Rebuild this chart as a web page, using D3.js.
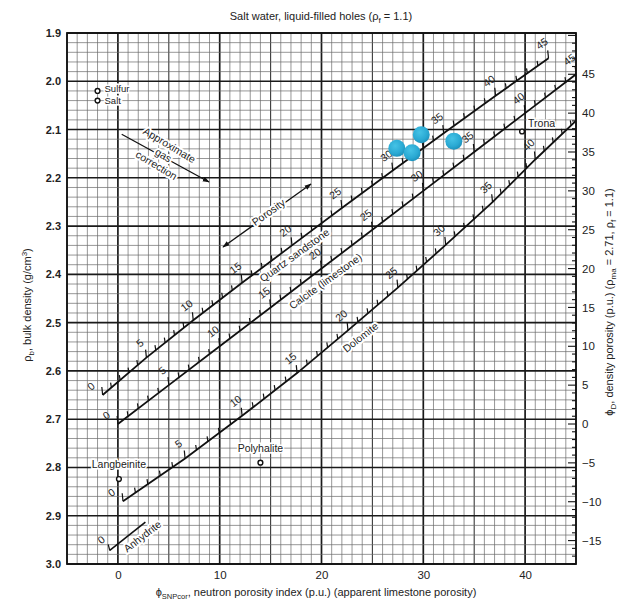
<!DOCTYPE html>
<html>
<head>
<meta charset="utf-8">
<script src="https://cdn.jsdelivr.net/npm/d3@7"></script>
<style>
  html, body { margin: 0; padding: 0; background: #fff; }
  svg { display: block; font-family: "Liberation Sans", Arial, Helvetica, sans-serif; }
</style>
</head>
<body>
<svg id="chart" width="635" height="602"></svg>
<script>
// ---------------- data ----------------
const neutronTicks = [0, 10, 20, 30, 40];
const densityTicks = [1.9, 2.0, 2.1, 2.2, 2.3, 2.4, 2.5, 2.6, 2.7, 2.8, 2.9, 3.0];
const porosityTicks = [45, 40, 35, 30, 25, 20, 15, 10, 5, 0, -5, -10, -15];

const porositySteps = [0, 5, 10, 15, 20, 25, 30, 35, 40, 45];
const sandNeutron = [-1.5, 2.8, 7.4, 12.2, 17.1, 22.0, 27.0, 32.0, 37.1, 42.3];
const sandDensity = [2.65, 2.5725, 2.495, 2.4175, 2.34, 2.2625, 2.185, 2.1075, 2.03, 1.9525];
const limeNeutron = [0, 5, 10, 15, 20, 25, 30, 35, 40, 45];
const limeDensity = [2.71, 2.6295, 2.549, 2.4685, 2.388, 2.3075, 2.227, 2.1465, 2.066, 1.9855];
const dolNeutron = [0.5, 6.6, 12.2, 17.6, 22.6, 27.5, 32.2, 36.8, 41.0, 45.4];
const dolDensity = [2.87, 2.7815, 2.693, 2.6045, 2.516, 2.4275, 2.339, 2.2505, 2.162, 2.0735];
const anhNeutron = [-0.8, 2.7];
const anhDensity = [2.972, 2.913];

const mineralNames = ["Sulfur", "Salt", "Trona", "Langbeinite", "Polyhalite"];
const mineralNeutron = [-2.0, -2.0, 39.7, 0.1, 14.0];
const mineralDensity = [2.02, 2.04, 2.104, 2.824, 2.79];

const sampleNeutron = [27.4, 28.9, 29.8, 33.0];
const sampleDensity = [2.139, 2.148, 2.111, 2.124];

// ---------------- layout ----------------
const svg = d3.select("#chart");
const L = 67, R = 576, T = 33, B = 564;
const x = d3.scaleLinear().domain([-5, 45]).range([L, R]);
const y = d3.scaleLinear().domain([1.9, 3.0]).range([T, B]);
const rhoMa = 2.71, rhoF = 1.1;
const yPhi = d3.scaleLinear().domain([0, 100]).range([y(rhoMa), y(rhoMa - (rhoMa - rhoF))]);

const defs = svg.append("defs");
defs.append("clipPath").attr("id", "plotclip")
  .append("rect").attr("x", L).attr("y", T).attr("width", R - L).attr("height", B - T);
const grad = defs.append("radialGradient").attr("id", "dotgrad")
  .attr("cx", "40%").attr("cy", "35%").attr("r", "65%");
grad.append("stop").attr("offset", "0%").attr("stop-color", "#45c3e6");
grad.append("stop").attr("offset", "70%").attr("stop-color", "#2aa9d3");
grad.append("stop").attr("offset", "100%").attr("stop-color", "#1e93bd");

// ---------------- grid ----------------
const grid = svg.append("g");
d3.range(-5, 45.001, 1).forEach(n => {
  const r = Math.round(n);
  let w = 0.7, c = "#6a6a6a";
  if (r % 5 === 0) { w = 1.1; c = "#3a3a3a"; }
  if (r % 10 === 0) { w = 1.7; c = "#1a1a1a"; }
  grid.append("line").attr("x1", x(r)).attr("x2", x(r)).attr("y1", T).attr("y2", B)
    .attr("stroke", c).attr("stroke-width", w);
});
d3.range(0, 56, 1).forEach(i => {
  const rho = 1.9 + i * 0.02;
  let w = 0.7, c = "#6a6a6a";
  if (i % 5 === 0) { w = 1.6; c = "#1a1a1a"; }
  grid.append("line").attr("x1", L).attr("x2", R).attr("y1", y(rho)).attr("y2", y(rho))
    .attr("stroke", c).attr("stroke-width", w);
});

// ---------------- frame & axes ----------------
svg.append("rect").attr("x", L).attr("y", T).attr("width", R - L).attr("height", B - T)
  .attr("fill", "none").attr("stroke", "#111").attr("stroke-width", 1.8);

// left axis labels
const leftAxis = d3.axisLeft(y).tickValues(densityTicks).tickFormat(d3.format(".1f")).tickSize(0).tickPadding(6);
svg.append("g").attr("transform", `translate(${L},0)`).call(leftAxis)
  .call(g => g.select(".domain").remove())
  .selectAll("text").attr("font-size", 11).attr("font-weight", "bold").attr("fill", "#222")
  .attr("font-family", "Liberation Sans, Arial, sans-serif");

// bottom axis labels
const bottomAxis = d3.axisBottom(x).tickValues(neutronTicks).tickFormat(d3.format("d")).tickSize(0).tickPadding(7);
svg.append("g").attr("transform", `translate(0,${B})`).call(bottomAxis)
  .call(g => g.select(".domain").remove())
  .selectAll("text").attr("font-size", 11.5).attr("fill", "#222")
  .attr("font-family", "Liberation Sans, Arial, sans-serif");

// right porosity axis: inward ticks every 1 p.u.
const phiMin = Math.ceil(yPhi.invert(B)), phiMax = Math.floor(yPhi.invert(T));
const rTicks = svg.append("g");
d3.range(phiMin, phiMax + 1).forEach(p => {
  const len = (p % 5 === 0) ? 8 : 4;
  rTicks.append("line").attr("x1", R - len).attr("x2", R).attr("y1", yPhi(p)).attr("y2", yPhi(p))
    .attr("stroke", "#111").attr("stroke-width", 1.1);
});
const rightAxis = d3.axisRight(yPhi).tickValues(porosityTicks)
  .tickFormat(d => d < 0 ? "\u2212" + Math.abs(d) : d).tickSize(0).tickPadding(6);
svg.append("g").attr("transform", `translate(${R},0)`).call(rightAxis)
  .call(g => g.select(".domain").remove())
  .selectAll("text").attr("font-size", 11.5).attr("fill", "#222")
  .attr("font-family", "Liberation Sans, Arial, sans-serif");

// ---------------- lithology lines ----------------
const plot = svg.append("g").attr("clip-path", "url(#plotclip)");
const lineGen = d3.line().x(d => x(d[0])).y(d => y(d[1]));

function drawLith(neut, dens, maxLabel) {
  const pts = neut.map((n, i) => [n, dens[i]]);
  plot.append("path").attr("d", lineGen(pts)).attr("fill", "none")
    .attr("stroke", "#111").attr("stroke-width", 1.8);
  // ticks at each porosity unit
  for (let i = 0; i < pts.length; i++) {
    const kmax = (i < pts.length - 1) ? 5 : 1;
    for (let k = 0; k < kmax; k++) {
      const f = k / 5;
      const a = pts[i], b = pts[Math.min(i + 1, pts.length - 1)];
      const n = a[0] + (b[0] - a[0]) * f, r = a[1] + (b[1] - a[1]) * f;
      const px = x(n), py = y(r);
      const len = k === 0 ? 8 : 5;
      plot.append("line").attr("x1", px).attr("x2", px - 0.8).attr("y1", py).attr("y2", py - len)
        .attr("stroke", "#111").attr("stroke-width", 1.2);
    }
  }
  // labels every 5 p.u.
  porositySteps.forEach((p, i) => {
    if (p > maxLabel) return;
    const a = pts[Math.max(0, i - 1)], b = pts[Math.min(pts.length - 1, i + 1)];
    const ang = Math.atan2(y(b[1]) - y(a[1]), x(b[0]) - x(a[0])) * 180 / Math.PI;
    const px = x(pts[i][0]), py = y(pts[i][1]);
    const lx = p === 0 ? px - 11 : px - 6, ly = p === 0 ? py - 8 : py - 14;
    plot.append("text").attr("x", lx).attr("y", ly)
      .attr("transform", `rotate(${ang},${lx},${ly})`)
      .attr("text-anchor", "middle").attr("dominant-baseline", "middle")
      .attr("font-size", 10.5).attr("fill", "#222").text(p);
  });
}
drawLith(sandNeutron, sandDensity, 45);
drawLith(limeNeutron, limeDensity, 45);
drawLith(dolNeutron, dolDensity, 40);

// anhydrite
{
  const pts = anhNeutron.map((n, i) => [n, anhDensity[i]]);
  plot.append("path").attr("d", lineGen(pts)).attr("fill", "none").attr("stroke", "#111").attr("stroke-width", 1.6);
  const px = x(pts[0][0]), py = y(pts[0][1]);
  plot.append("line").attr("x1", px).attr("x2", px - 1.5).attr("y1", py).attr("y2", py - 6)
    .attr("stroke", "#111").attr("stroke-width", 1.2);
  const ang = Math.atan2(y(pts[1][1]) - py, x(pts[1][0]) - px) * 180 / Math.PI;
  plot.append("text").attr("x", px - 8).attr("y", py - 10).attr("transform", `rotate(${ang},${px - 8},${py - 10})`)
    .attr("text-anchor", "middle").attr("dominant-baseline", "middle").attr("font-size", 10.5).attr("fill", "#222").text(0);
}

// ---------------- annotations ----------------
function haloText(g, tx, ty, ang, str, size) {
  return g.append("text").attr("x", tx).attr("y", ty)
    .attr("transform", `rotate(${ang},${tx},${ty})`)
    .attr("text-anchor", "middle").attr("dominant-baseline", "middle")
    .attr("font-size", size).attr("fill", "#222")
    .attr("stroke", "#fff").attr("stroke-width", 4).attr("paint-order", "stroke").attr("stroke-linejoin", "round")
    .text(str);
}
const ann = svg.append("g");

// lithology names
haloText(ann, 295, 256, -36, "Quartz sandstone", 10.5);
haloText(ann, 326, 282, -36, "Calcite (limestone)", 10.5);
haloText(ann, 361, 338, -38, "Dolomite", 10.5);
haloText(ann, 143, 537, -38, "Anhydrite", 10.5);

// gas correction arrow
const arrowDefs = defs.append("marker").attr("id", "ah").attr("viewBox", "0 0 10 10")
  .attr("refX", 9).attr("refY", 5).attr("markerWidth", 7).attr("markerHeight", 7).attr("orient", "auto-start-reverse")
  .attr("markerUnits", "userSpaceOnUse");
arrowDefs.append("path").attr("d", "M0,1.5 L10,5 L0,8.5 Z").attr("fill", "#111");
ann.append("line").attr("x1", 121.7).attr("y1", 134.3).attr("x2", 209).attr("y2", 182)
  .attr("stroke", "#111").attr("stroke-width", 1.3).attr("marker-end", "url(#ah)");
haloText(ann, 169, 146, 31, "Approximate", 10.5);
haloText(ann, 163, 156, 31, "gas", 10.5);
haloText(ann, 156, 166, 31, "correction", 10.5);

// porosity double arrow
ann.append("line").attr("x1", 223).attr("y1", 247).attr("x2", 311).attr("y2", 184)
  .attr("stroke", "#111").attr("stroke-width", 1.3)
  .attr("marker-end", "url(#ah)").attr("marker-start", "url(#ah)");
haloText(ann, 269, 213, -35.5, "Porosity", 10.5);

// minerals
const labelPos = {
  "Sulfur": [7, -1, "start"], "Salt": [7, 1, "start"], "Trona": [6, -7, "start"],
  "Langbeinite": [0, -14, "middle"], "Polyhalite": [0, -13, "middle"]
};
mineralNames.forEach((m, i) => {
  const px = x(mineralNeutron[i]), py = y(mineralDensity[i]);
  const lp = labelPos[m];
  const fs = (m === "Sulfur" || m === "Salt") ? 9.5 : 10.5;
  ann.append("text").attr("x", px + lp[0]).attr("y", py + lp[1])
    .attr("text-anchor", lp[2]).attr("dominant-baseline", "middle")
    .attr("font-size", fs).attr("fill", "#222")
    .attr("stroke", "#fff").attr("stroke-width", 3).attr("paint-order", "stroke")
    .text(m);
  ann.append("circle").attr("cx", px).attr("cy", py).attr("r", 2.4)
    .attr("fill", "#fff").attr("stroke", "#111").attr("stroke-width", 1.4);
});

// sample points
svg.append("g").selectAll("circle").data(sampleNeutron.map((n, i) => [n, sampleDensity[i]]))
  .join("circle").attr("cx", d => x(d[0])).attr("cy", d => y(d[1])).attr("r", 8.5)
  .attr("fill", "url(#dotgrad)");

// ---------------- titles ----------------
const title = svg.append("text").attr("x", 321).attr("y", 20).attr("text-anchor", "middle")
  .attr("font-size", 11).attr("fill", "#222");
title.append("tspan").text("Salt water, liquid-filled holes (\u03c1");
title.append("tspan").attr("font-size", 8).attr("dy", 3).text("f");
title.append("tspan").attr("dy", -3).text(" = 1.1)");

const xl = svg.append("text").attr("x", 316).attr("y", 596).attr("text-anchor", "middle")
  .attr("font-size", 11).attr("fill", "#222");
xl.append("tspan").text("\u03d5");
xl.append("tspan").attr("font-size", 7.5).attr("dy", 3).text("SNPcor");
xl.append("tspan").attr("dy", -3).text(", neutron porosity index (p.u.) (apparent limestone porosity)");

const yl = svg.append("text").attr("transform", "translate(31,305) rotate(-90)").attr("text-anchor", "middle")
  .attr("font-size", 11).attr("fill", "#222");
yl.append("tspan").text("\u03c1");
yl.append("tspan").attr("font-size", 8).attr("dy", 3).text("b");
yl.append("tspan").attr("dy", -3).text(", bulk density (g/cm");
yl.append("tspan").attr("font-size", 8).attr("dy", -4).text("3");
yl.append("tspan").attr("dy", 4).text(")");

const rl = svg.append("text").attr("transform", "translate(613,302) rotate(-90)").attr("text-anchor", "middle")
  .attr("font-size", 11).attr("fill", "#222");
rl.append("tspan").text("\u03d5");
rl.append("tspan").attr("font-size", 8).attr("dy", 3).text("D");
rl.append("tspan").attr("dy", -3).text(", density porosity (p.u.) (\u03c1");
rl.append("tspan").attr("font-size", 8).attr("dy", 3).text("ma");
rl.append("tspan").attr("dy", -3).text(" = 2.71, \u03c1");
rl.append("tspan").attr("font-size", 8).attr("dy", 3).text("f");
rl.append("tspan").attr("dy", -3).text(" = 1.1)");
</script>
</body>
</html>
